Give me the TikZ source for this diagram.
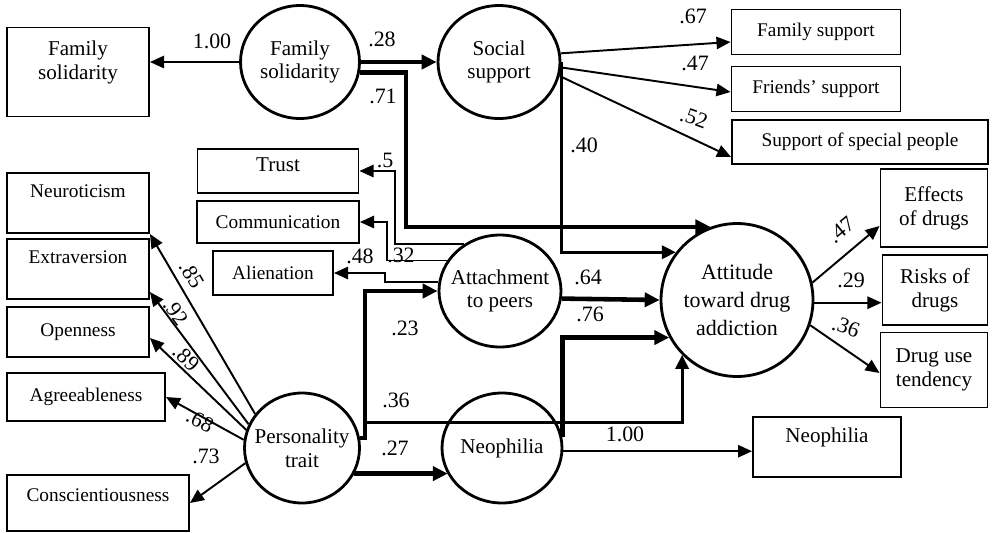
\documentclass[tikz,border=0pt]{standalone}
\usepackage{fontspec}
\setmainfont{Liberation Serif}
\usepackage{tikz}
\usetikzlibrary{arrows.meta}
\usetikzlibrary{shapes.geometric}
\usetikzlibrary{calc}
\newcommand{\bigtxt}{\fontsize{12}{13.5}\selectfont}
\newcommand{\smalltxt}{\fontsize{11}{13}\selectfont}

\tikzset{
	latent/.style		= {ellipse, draw, line width=1.6pt, inner sep=-1cm, align=center, font=\bigtxt},
	item/.style			= {rectangle, draw, line width=1.1pt, inner sep=0pt, align=center, font=\bigtxt},
	smallitem/.style	= {item, font=\smalltxt},
	coef/.style			= {font=\fontsize{12.5}{14}\selectfont, inner sep=0pt},
	thinarr/.style		= {line width=1.1pt, -{Triangle[length=8pt,width=7pt]}},
	midarr/.style		= {line width=1.7pt, -{Triangle[length=8pt,width=7.5pt]}},
	thickarr/.style		= {line width=2.6pt, -{Triangle[length=8.5pt,width=8pt]}}
}

\begin{document}
\begin{tikzpicture}[x=0.02cm, y=-0.02cm]
		\useasboundingbox (0,0) rectangle (994,532);

		\node(FSc)		[latent, minimum width=2.38cm, minimum height=2.26cm] at (300,62)	{Family\\solidarity};
		\node(SSc)		[latent, minimum width=2.44cm, minimum height=2.26cm] at (499,62)	{Social\\support};
		\node(ATc)		[latent, minimum width=2.44cm, minimum height=2.24cm] at (500,291)	{Attachment\\to peers};
		\node(PTc)		[latent, minimum width=2.30cm, minimum height=2.20cm] at (302,448)	{Personality\\trait};
		\node(NPc)		[latent, minimum width=2.40cm, minimum height=2.20cm] at (502,448)	{Neophilia};
		\node(ADc)		[latent, minimum width=3.04cm, minimum height=3.06cm, font=\fontsize{12.5}{16}\selectfont] at (737,300)	{Attitude\\toward drug\\addiction};

		\node(FSbox)	[item, minimum width=2.84cm, minimum height=1.78cm] at (78,72)		{Family\\solidarity\\~};
		\node(FamSup)	[smallitem, minimum width=3.38cm, minimum height=0.90cm] at (816,32)	{Family support};
		\node(FriSup)	[smallitem, minimum width=3.38cm, minimum height=0.90cm] at (816,89)	{Friends' support};
		\node(SpecSup)	[smallitem, minimum width=5.12cm, minimum height=0.88cm] at (860,142)	{Support of special people};
		\node(Trust)	[item, minimum width=3.22cm, minimum height=0.88cm] at (278,171)	{Trust\\[-6pt]~};
		\node(Comm)		[smallitem, minimum width=3.24cm, minimum height=0.84cm] at (278,222)	{Communication};
		\node(Alien)	[smallitem, minimum width=2.40cm, minimum height=0.88cm] at (273,273)	{Alienation};
		\node(Neuro)	[smallitem, minimum width=2.84cm, minimum height=1.20cm] at (78,203)	{Neuroticism\\~};
		\node(Extra)	[smallitem, minimum width=2.84cm, minimum height=1.20cm] at (78,269)	{Extraversion\\~};
		\node(Open)		[smallitem, minimum width=2.84cm, minimum height=1.00cm] at (78,332)	{Openness};
		\node(Agree)	[smallitem, minimum width=3.16cm, minimum height=0.96cm] at (86,397)	{Agreeableness};
		\node(Consc)	[smallitem, minimum width=3.64cm, minimum height=1.12cm] at (98,503)	{Conscientiousness\\[-4pt]~};
		\node(Effects)	[item, minimum width=2.14cm, minimum height=1.56cm] at (934,208)	{Effects\\of drugs};
		\node(Risks)	[item, minimum width=2.10cm, minimum height=1.40cm] at (935,290)	{Risks of\\drugs};
		\node(DrugUse)	[item, minimum width=2.14cm, minimum height=1.50cm] at (934,370)	{Drug use\\tendency};
		\node(NPbox)	[item, minimum width=2.96cm, minimum height=1.20cm] at (827,447)	{Neophilia\\~};

		\draw[thinarr]	(FSc.west) -- (FSc.west -| FSbox.east) node[coef] at (212,41) {1.00};
		\draw[thickarr]	(FSc.east) -- (SSc.west) node[coef] at (382,39) {.28};
		\draw[thickarr]	(FSc.-10) -- ++(46,0) |- (ADc.110) node[coef] at (383,96) {.71};
		\draw[midarr]	(SSc.east) |- (ADc.142) node[coef] at (584,145) {.40};

		\draw[thinarr]	(SSc.8) -- ($(FamSup.west)+(0,10)$) node[coef] at (693,16) {.67};
		\draw[thinarr]	(SSc.-5) -- ($(FriSup.west)+(0,3)$) node[coef] at (695,63) {.47};
		\draw[thinarr]	(SSc.-13) -- ($(SpecSup.west)+(0,15)$) node[coef, rotate=-20] at (694,118) {.52};

		\draw[thinarr]	(ATc.128) -- ++(-69,0) |- (Trust.east) node[coef] at (385,160) {.5};
		\draw[thinarr]	(ATc.150) -- ++(-60,0) |- (Comm.east) node[coef] at (401,255) {.32};
		\draw[thinarr]	(ATc.172) -- ++(-53,0) |- (Alien.east) node[coef] at (360,256) {.48};

		\coordinate (PTout) at ($(PTc.10)+(5,0)$);
		\draw[thickarr]	(PTc.10) -- (PTout) |- (ATc.west) node[coef] at (405,328) {.23};
		\draw[midarr]	(PTout) -- ++(0,-15) -| (ADc.225) node[coef] at (396,400) {.36};
		\draw[thickarr]	(PTc.-26) -- (PTc.-26 -| NPc.206) node[coef] at (395,448) {.27};
		\draw[thickarr]	(NPc.10) |- (ADc.209) node[coef] at (590,314) {.76};
		\draw[thickarr]	(ATc.-7) -- (ADc.west) node[coef] at (588,277) {.64};
		\draw[thinarr]	(NPc.-3) -- (NPc.-3 -| NPbox.west) node[coef] at (625,434) {1.00};

		\draw[thinarr]	(ADc.13) -- ($(Effects.west)+(0,18)$) node[coef, rotate=39] at (841,230) {.47};
		\draw[thinarr]	(ADc.-2) -- (ADc.-2 -| Risks.west) node[coef] at (851,280) {.29};
		\draw[thinarr]	(ADc.-19) -- ($(DrugUse.west)+(0,3)$) node[coef, rotate=-20] at (846,327) {.36};

		\draw[thinarr]	(PTc.144) -- (Neuro.south east) node[coef, rotate=-60] at (192,275) {.85};
		\draw[thinarr]	(PTc.156) -- ($(Extra.east)+(0,23)$) node[coef, rotate=-54] at (176,312) {.92};
		\draw[thinarr]	(PTc.162) -- ($(Open.east)+(0,6)$) node[coef, rotate=-43] at (186,358) {.89};
		\draw[thinarr]	(PTc.172) -- (Agree.east) node[coef, rotate=-28] at (200,421) {.68};
		\draw[thinarr]	(PTc.195) -- (Consc.east) node[coef] at (206,456) {.73};
	\end{tikzpicture}
\end{document}
